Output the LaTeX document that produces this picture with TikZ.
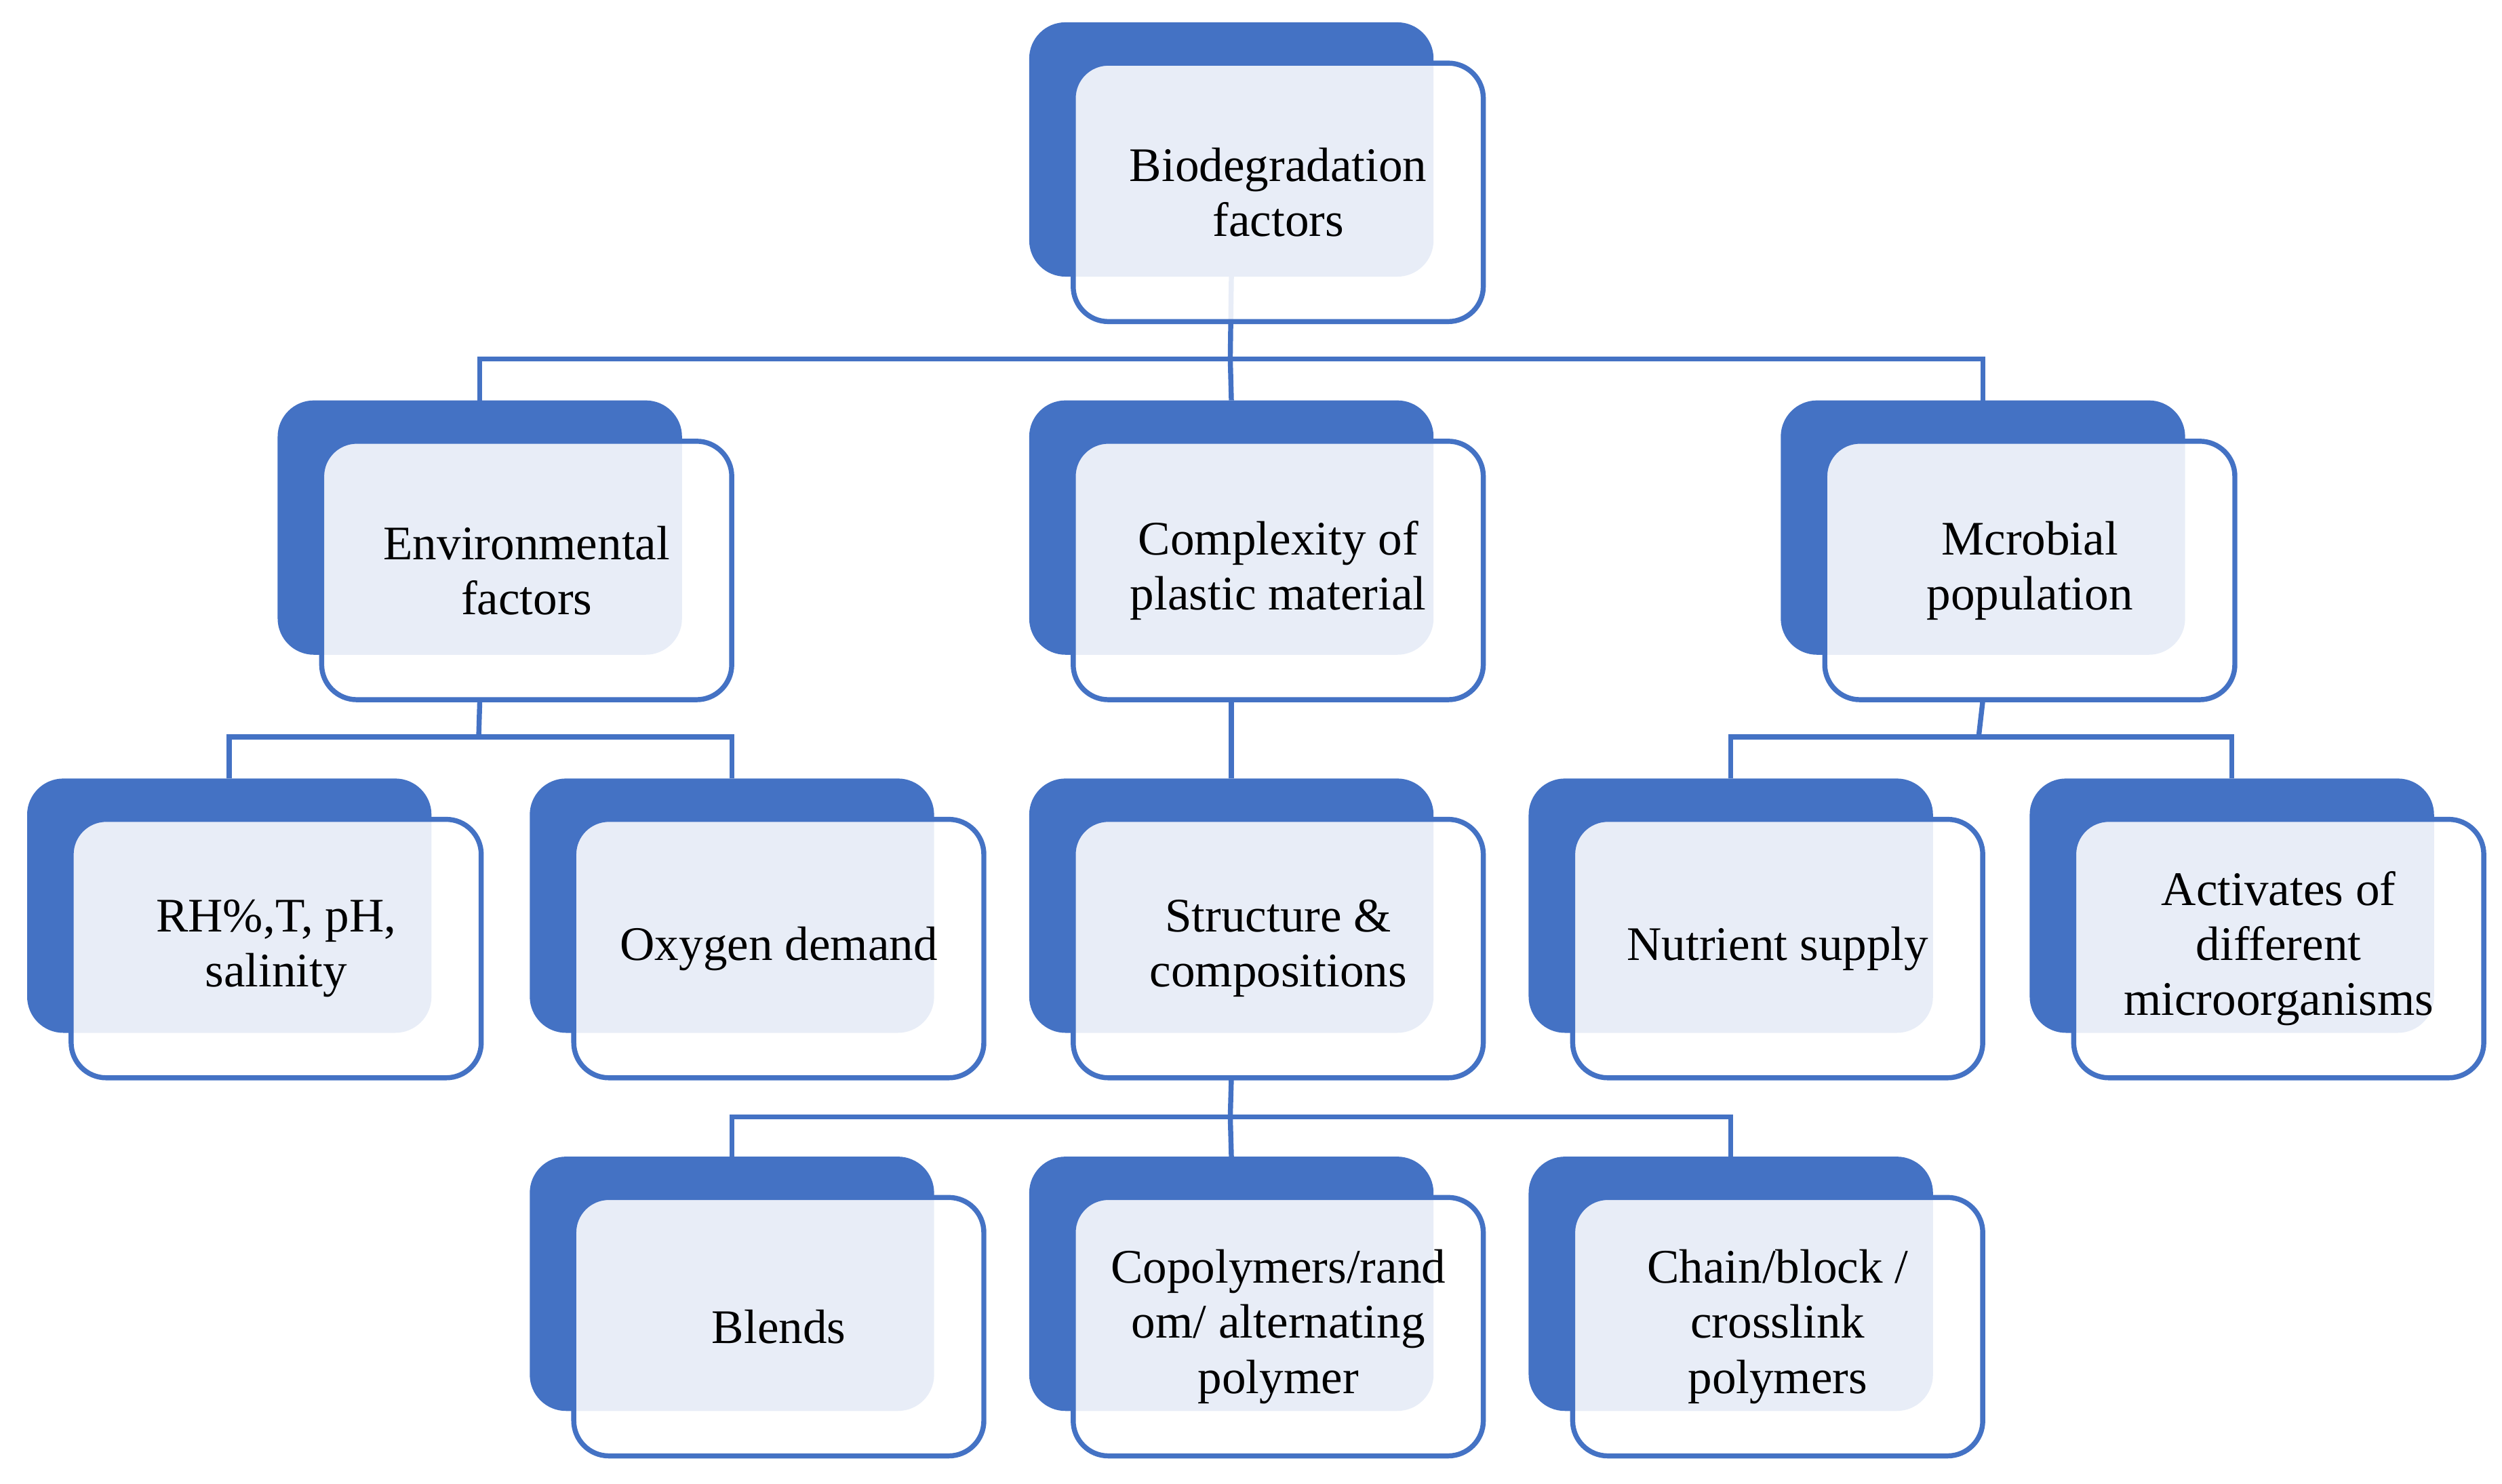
\documentclass[tikz,border=0pt]{standalone}
\usepackage{fontspec}
\setmainfont{Liberation Serif}
\definecolor{FacBlue}{RGB}{68,114,196}

\begin{document}
\begin{tikzpicture}[x=0.1mm, y=-0.1mm,
 back/.style={draw=FacBlue, fill=FacBlue, rounded corners=2.2mm, anchor=north west, minimum width=25.2mm, minimum height=15.8mm, inner sep=0pt},
 front/.style={draw=FacBlue, line width=0.9pt, fill=white, fill opacity=0.88, text opacity=1, rounded corners=2.2mm, anchor=north west, minimum width=25.7mm, minimum height=16.2mm, align=center, font=\fontsize{8.6}{9.8}\selectfont, inner sep=1pt},
 link/.style={draw=FacBlue, line width=0.9pt}]
\pgfmathsetmacro{\dx}{26} % shift of front box (own definition)
\pgfmathsetmacro{\dy}{24}

\useasboundingbox (0,0) rectangle (1568,930);

% back boxes
\node[back] (top) at (645,14) {};
\node[back] (env) at (174,251) {};
\node[back] (cpx) at (645,251) {};
\node[back] (mic) at (1116,251) {};
\node[back] (rh) at (17,488) {};
\node[back] (oxy) at (332,488) {};
\node[back] (str) at (645,488) {};
\node[back] (nut) at (958,488) {};
\node[back] (act) at (1272,488) {};
\node[back] (bln) at (332,725) {};
\node[back] (cop) at (645,725) {};
\node[back] (chn) at (958,725) {};

% connectors
\coordinate (j0) at (771,225);
\coordinate (j1) at (300,462);
\coordinate (j2) at (1240,462);
\coordinate (j3) at (771,700);
\draw[link] (top.south) -- (j0);
\draw[link] (j0) -| (env.north);
\draw[link] (j0) -- (cpx.north);
\draw[link] (j0) -| (mic.north);
\draw[link] (env.south) ++(0,28) -- (j1);
\draw[link] (j1) -| (rh.north);
\draw[link] (j1) -| (oxy.north);
\draw[link] (cpx.south) ++(0,28) -- (str.north);
\draw[link] (mic.south) ++(0,28) -- (j2);
\draw[link] (j2) -| (nut.north);
\draw[link] (j2) -| (act.north);
\draw[link] (str.south) ++(0,28) -- (j3);
\draw[link] (j3) -| (bln.north);
\draw[link] (j3) -- (cop.north);
\draw[link] (j3) -| (chn.north);

% front boxes
\node[front] (top-f) at (645+\dx,14+\dy) {Biodegradation\\factors};
\node[front] (env-f) at (174+\dx,251+\dy) {Environmental\\factors};
\node[front] (cpx-f) at (645+\dx,251+\dy) {Complexity of\\plastic material};
\node[front] (mic-f) at (1116+\dx,251+\dy) {Mcrobial\\population};
\node[front] (rh-f) at (17+\dx,488+\dy) {RH\%,T, pH,\\salinity};
\node[front] (oxy-f) at (332+\dx,488+\dy) {Oxygen demand};
\node[front] (str-f) at (645+\dx,488+\dy) {Structure \&\\compositions};
\node[front] (nut-f) at (958+\dx,488+\dy) {Nutrient supply};
\node[front] (act-f) at (1272+\dx,488+\dy) {Activates of\\different\\microorganisms};
\node[front] (bln-f) at (332+\dx,725+\dy) {Blends};
\node[front] (cop-f) at (645+\dx,725+\dy) {Copolymers/rand\\om/ alternating\\polymer};
\node[front] (chn-f) at (958+\dx,725+\dy) {Chain/block /\\crosslink\\polymers};
\end{tikzpicture}
\end{document}
